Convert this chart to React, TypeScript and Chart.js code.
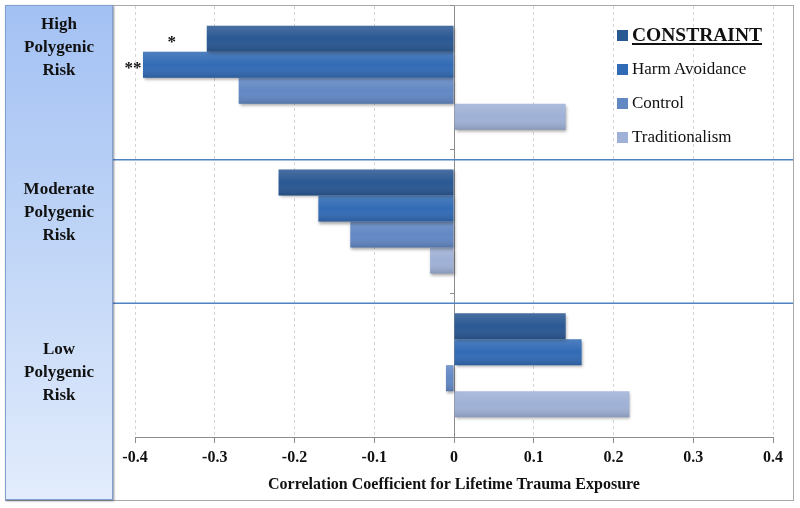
import React, { useEffect, useRef } from "react";
import { Chart, registerables } from "chart.js";

Chart.register(...registerables);

// ---- data ----
const categories = ["High Polygenic Risk", "Moderate Polygenic Risk", "Low Polygenic Risk"];
const categoryLines = [
  ["High", "Polygenic", "Risk"],
  ["Moderate", "Polygenic", "Risk"],
  ["Low", "Polygenic", "Risk"],
];
const seriesNames = ["CONSTRAINT", "Harm Avoidance", "Control", "Traditionalism"];
const constraintValues = [-0.31, -0.22, 0.14];
const harmAvoidanceValues = [-0.39, -0.17, 0.16];
const controlValues = [-0.27, -0.13, -0.01];
const traditionalismValues = [0.14, -0.03, 0.22];
const xTickLabels = ["-0.4", "-0.3", "-0.2", "-0.1", "0", "0.1", "0.2", "0.3", "0.4"];
const significanceSeries = [0, 1];
const significanceCategory = [0, 0];
const significanceLabels = ["*", "**"];
const axisTitle = "Correlation Coefficient for Lifetime Trauma Exposure";

// ---- styles ----
const seriesColors = ["#2a5893", "#326bb5", "#6288c4", "#9fb1d6"];
const serif = '"Liberation Serif", "Times New Roman", serif';
const labelTops = [6, 171, 331];
const sigOffsets = [-35, -10];

const barStylePlugin = {
  id: "barStyle",
  beforeDatasetDraw(chart: any) {
    const ctx = chart.ctx;
    ctx.save();
    ctx.shadowColor = "rgba(0,0,0,0.35)";
    ctx.shadowBlur = 3;
    ctx.shadowOffsetX = 1;
    ctx.shadowOffsetY = 2;
  },
  afterDatasetDraw(chart: any) {
    chart.ctx.restore();
  },
  afterDatasetsDraw(chart: any) {
    const ctx = chart.ctx;
    ctx.save();
    chart.data.datasets.forEach((_: any, di: number) => {
      const meta = chart.getDatasetMeta(di);
      meta.data.forEach((bar: any) => {
        const { x, y, base, height } = bar.getProps(["x", "y", "base", "height"], true);
        const left = Math.min(x, base);
        const w = Math.abs(x - base);
        const top = y - height / 2;
        const g = ctx.createLinearGradient(0, top, 0, top + height);
        g.addColorStop(0, "rgba(255,255,255,0.14)");
        g.addColorStop(0.5, "rgba(255,255,255,0.0)");
        g.addColorStop(1, "rgba(0,0,0,0.14)");
        ctx.fillStyle = g;
        ctx.fillRect(left, top, w, height);
      });
    });
    // significance markers
    ctx.fillStyle = "#111";
    ctx.font = `bold 17px ${serif}`;
    ctx.textAlign = "center";
    ctx.textBaseline = "middle";
    significanceLabels.forEach((lab, i) => {
      const bar = chart.getDatasetMeta(significanceSeries[i]).data[significanceCategory[i]];
      ctx.fillText(lab, bar.x + sigOffsets[i], bar.y + 4);
    });
    // separators
    const ys = chart.scales.y;
    ctx.strokeStyle = "#4f82c4";
    ctx.lineWidth = 1.5;
    for (let i = 0; i < categories.length - 1; i++) {
      const yb = (ys.getPixelForValue(i) + ys.getPixelForValue(i + 1)) / 2 + 10;
      ctx.beginPath();
      ctx.moveTo(112, yb);
      ctx.lineTo(793, yb);
      ctx.stroke();
    }
    ctx.restore();
  },
};

function ChartCanvas() {
  const ref = useRef<HTMLCanvasElement | null>(null);
  useEffect(() => {
    if (!ref.current) return;
    const seriesValues = [constraintValues, harmAvoidanceValues, controlValues, traditionalismValues];
    const chart = new Chart(ref.current, {
      type: "bar",
      data: {
        labels: categories,
        datasets: seriesNames.map((name, i) => ({
          label: name,
          data: seriesValues[i],
          backgroundColor: seriesColors[i],
          borderWidth: 0,
          barPercentage: 1,
          categoryPercentage: 0.724,
        })),
      },
      options: {
        indexAxis: "y",
        animation: false,
        responsive: false,
        maintainAspectRatio: false,
        layout: { padding: { left: 135, right: 27, top: 6, bottom: 8 } },
        plugins: {
          legend: { display: false },
          tooltip: { enabled: false },
        },
        scales: {
          x: {
            type: "linear",
            min: -0.4,
            max: 0.4,
            afterFit: (s: any) => {
              s.height = 63;
            },
            afterBuildTicks: (s: any) => {
              s.ticks = xTickLabels.map((t) => ({ value: parseFloat(t) }));
            },
            ticks: {
              callback: (_v: any, i: number) => xTickLabels[i],
              font: { family: serif, size: 16, weight: "bold" },
              color: "#111",
              padding: 5,
              maxRotation: 0,
            },
            grid: {
              color: "#d4d4d4",
              tickColor: "#8c8c8c",
              tickBorderDash: [],
              tickLength: 6,
            },
            border: { display: true, color: "#8c8c8c", width: 1, dash: [3, 3] },
            title: {
              display: true,
              text: axisTitle,
              font: { family: serif, size: 16, weight: "bold" },
              color: "#111",
              padding: { top: 4, bottom: 6 },
            },
          },
          y: {
            type: "category",
            position: { x: 0 },
            offset: true,
            ticks: { display: false },
            grid: {
              offset: true,
              drawOnChartArea: false,
              drawTicks: true,
              tickLength: 4,
              tickColor: "#8c8c8c",
            },
            border: { display: true, color: "#8c8c8c", width: 1 },
          },
        },
      },
      plugins: [barStylePlugin],
    } as any);
    return () => chart.destroy();
  }, []);
  return <canvas ref={ref} width={800} height={508} style={{ position: "absolute", left: 0, top: 0 }} />;
}

export default function App() {
  return (
    <div style={{ position: "fixed", left: 0, top: 0, width: 800, height: 508, background: "#fff", overflow: "hidden" }}>
      <div
        style={{
          position: "absolute",
          left: 5,
          top: 5,
          width: 787,
          height: 494,
          border: "1px solid #a8a8a8",
        }}
      />
      <ChartCanvas />
      <div
        style={{
          position: "absolute",
          left: 5,
          top: 5,
          width: 106,
          height: 493,
          background: "linear-gradient(to bottom, #a3c1f3 0%, #c1d6f7 50%, #e2ecfc 100%)",
          border: "1px solid #7f9fcf",
          boxShadow: "1px 1px 2px rgba(60,60,80,0.6)",
        }}
      >
        {categoryLines.map((lines, ci) => (
          <div
            key={ci}
            style={{
              position: "absolute",
              left: 0,
              width: 106,
              top: labelTops[ci],
              textAlign: "center",
              fontFamily: serif,
              fontWeight: "bold",
              fontSize: 17,
              lineHeight: "23px",
              color: "#111",
            }}
          >
            {lines.map((l, li) => (
              <div key={li}>{l}</div>
            ))}
          </div>
        ))}
      </div>
      {seriesNames.map((name, i) => (
        <div
          key={name}
          style={{
            position: "absolute",
            left: 617,
            top: [23, 57, 91, 125][i],
            height: 24,
            display: "flex",
            alignItems: "center",
            fontFamily: serif,
            color: "#111",
            fontSize: i === 0 ? 19.5 : 17,
            fontWeight: i === 0 ? "bold" : "normal",
          }}
        >
          <span
            style={{
              display: "inline-block",
              width: 11,
              height: 11,
              background: seriesColors[i],
              marginRight: 4,
            }}
          />
          <span style={{ textDecoration: i === 0 ? "underline" : "none", textDecorationThickness: i === 0 ? 2 : undefined, textUnderlineOffset: 2 }}>
            {name}
          </span>
        </div>
      ))}
    </div>
  );
}
